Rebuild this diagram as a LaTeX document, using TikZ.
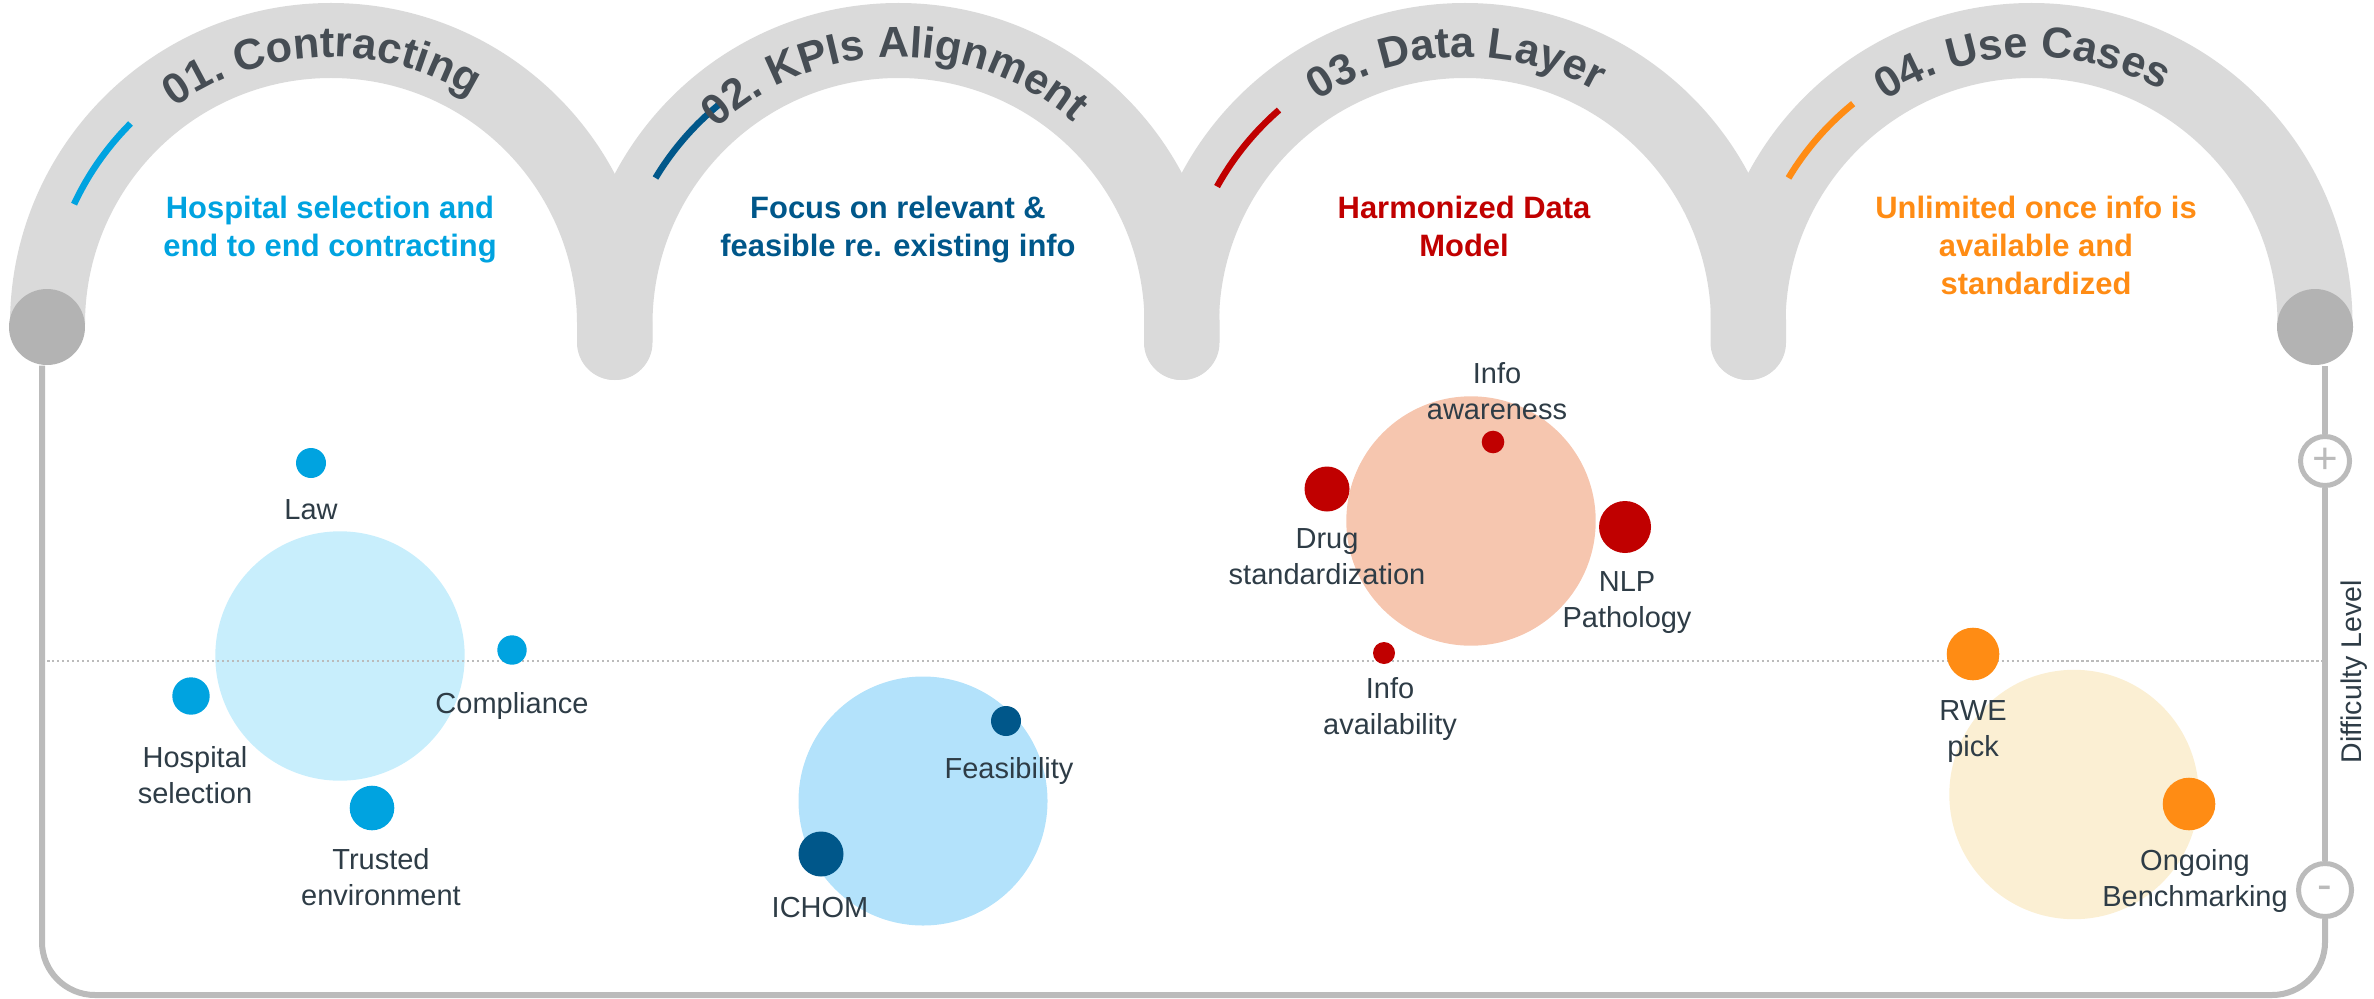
\documentclass[tikz,border=0pt]{standalone}
\usepackage{fontspec}
\setmainfont{Liberation Sans}
\usetikzlibrary{decorations.text}

\definecolor{bandgray}{HTML}{DADADA}
\definecolor{capgray}{HTML}{B3B3B3}
\definecolor{framegray}{HTML}{BBBBBB}
\definecolor{titlegray}{HTML}{464D54}
\definecolor{labelgray}{HTML}{2E3C46}
\definecolor{skyblue}{HTML}{00A3E0}
\definecolor{deepblue}{HTML}{00578A}
\definecolor{darkred}{HTML}{C00000}
\definecolor{tangerine}{HTML}{FF8C14}
\definecolor{paleblue}{HTML}{C8EEFC}
\definecolor{softblue}{HTML}{B3E2FB}
\definecolor{salmon}{HTML}{F6C6AF}
\definecolor{cream}{HTML}{FBEFD3}

\newcommand\archtitle{\fontsize{12.3}{14}\selectfont\bfseries\color{titlegray}}

\tikzset{
	band/.style={draw=bandgray, line width=0.75cm, line cap=round},
	accent/.style={line width=0.065cm},
	archtext/.style={decorate, decoration={text along path, text align=center, text={|\archtitle|#1}}},
	subtitle/.style={anchor=north, align=center, inner sep=0, font=\fontsize{8.8}{10.8}\selectfont\bfseries},
	itemtext/.style={anchor=north, align=center, inner sep=0, text=labelgray, font=\fontsize{8.25}{10.1}\selectfont},
	endcap/.style={circle, fill=capgray, minimum size=0.76cm, inner sep=0},
	levelmark/.style={circle, draw=framegray, line width=0.05cm, fill=white, inner sep=0, text=framegray, font=\fontsize{12.5}{12.5}\selectfont, text depth=0pt},
	frame/.style={draw=framegray, line width=0.06cm},
	midline/.style={draw=framegray, line width=0.025cm, dash pattern=on 0.025cm off 0.025cm}
}

\begin{document}
\begin{tikzpicture}
	\useasboundingbox (0,0) rectangle (23.74,9.98);
	
	%%%%% ARCHES %%%%%
	\draw[band] (0.475,6.74) arc (180:0:2.835) -- ++(0,-0.185);
	\draw[band] (6.15,6.555) -- ++(0,0.185) arc (180:0:2.835) -- ++(0,-0.185);
	\draw[band] (11.815,6.555) -- ++(0,0.185) arc (180:0:2.835) -- ++(0,-0.185);
	\draw[band] (17.48,6.555) -- ++(0,0.185) arc (180:0:2.835);
	
	\draw[accent, skyblue] ([shift={(155:2.835)}]3.31,6.74) arc (155:135:2.835);
	\draw[accent, deepblue] ([shift={(149:2.835)}]8.985,6.74) arc (149:129:2.835);
	\draw[accent, darkred] ([shift={(151:2.835)}]14.65,6.74) arc (151:131:2.835);
	\draw[accent, tangerine] ([shift={(149:2.835)}]20.315,6.74) arc (149:129:2.835);
	
	\path[archtext={01. Contracting}] ([shift={(184:2.67)}]3.31,6.74) arc (184:0:2.67);
	\path[archtext={02. KPIs Alignment}] ([shift={(182:2.67)}]8.985,6.74) arc (182:0:2.67);
	\path[archtext={03. Data Layer}] ([shift={(184:2.67)}]14.65,6.74) arc (184:0:2.67);
	\path[archtext={04. Use Cases}] ([shift={(184:2.67)}]20.315,6.74) arc (184:0:2.67);
	
	\node[subtitle, text=skyblue] (sub1) at (3.30,8.025) {Hospital selection and\\end to end contracting};
	\node[subtitle, text=deepblue] (sub2) at (8.98,8.025) {Focus on relevant \&\\feasible re. existing info};
	\node[subtitle, text=darkred] (sub3) at (14.64,8.025) {Harmonized Data\\Model};
	\node[subtitle, text=tangerine] (sub4) at (20.36,8.025) {Unlimited once info is\\available and\\standardized};
	
	%%%%% FRAME %%%%%
	\node[endcap] (startcap) at (0.47,6.71) {};
	\node[endcap] (endcap) at (23.15,6.71) {};
	\node[levelmark, minimum size=0.49cm, text height=0.7em] (plus) at (23.25,5.37) {+};
	\node[levelmark, minimum size=0.53cm, text height=0.544em] (minus) at (23.25,1.08) {-};
	
	\coordinate (lowleft) at (0.42,0.03);
	\coordinate (lowright) at (23.25,0.03);
	\draw[frame, rounded corners=0.53cm] ([xshift=-0.05cm]startcap.south) -- (lowleft) -- (lowright) -- (minus.south);
	\draw[frame] (minus) -- (plus);
	\draw[frame] (plus.north) -- (plus.north |- endcap.south);
	
	\node[rotate=90, text=labelgray, font=\fontsize{8.1}{10}\selectfont] (difficulty) at (23.54,3.26) {Difficulty Level};
	
	%%%%% BUBBLES %%%%%
	\fill[paleblue] (3.40,3.42) circle (1.247);
	\fill[softblue] (9.23,1.97) circle (1.245);
	\fill[salmon] (14.71,4.77) circle (1.247);
	\fill[cream] (20.74,2.035) circle (1.247);
	
	\draw[midline] (0.47,3.37) -- (23.22,3.37);
	
	\fill[skyblue] (3.11,5.35) circle (0.15);
	\fill[skyblue] (5.12,3.48) circle (0.147);
	\fill[skyblue] (1.91,3.02) circle (0.187);
	\fill[skyblue] (3.72,1.90) circle (0.223);
	
	\fill[deepblue] (10.06,2.77) circle (0.15);
	\fill[deepblue] (8.21,1.44) circle (0.225);
	
	\fill[darkred] (14.93,5.56) circle (0.113);
	\fill[darkred] (13.27,5.09) circle (0.225);
	\fill[darkred] (16.25,4.71) circle (0.26);
	\fill[darkred] (13.84,3.45) circle (0.11);
	
	\fill[tangerine] (19.73,3.44) circle (0.263);
	\fill[tangerine] (21.89,1.94) circle (0.263);
	
	\node[itemtext] (lawtext) at (3.11,4.99) {Law};
	\node[itemtext] (compliancetext) at (5.12,3.06) {Compliance};
	\node[itemtext] (hospitaltext) at (1.95,2.52) {Hospital\\selection};
	\node[itemtext] (trustedtext) at (3.81,1.50) {Trusted\\environment};
	\node[itemtext] (feasibilitytext) at (10.09,2.41) {Feasibility};
	\node[itemtext] (ichomtext) at (8.20,1.01) {ICHOM};
	\node[itemtext] (awarenesstext) at (14.97,6.36) {Info\\awareness};
	\node[itemtext] (drugtext) at (13.27,4.70) {Drug\\standardization};
	\node[itemtext] (nlptext) at (16.27,4.27) {NLP\\Pathology};
	\node[itemtext] (availabilitytext) at (13.90,3.21) {Info\\availability};
	\node[itemtext] (rwetext) at (19.73,2.98) {RWE\\pick};
	\node[itemtext] (ongoingtext) at (21.95,1.49) {Ongoing\\Benchmarking};
	
\end{tikzpicture}
\end{document}
